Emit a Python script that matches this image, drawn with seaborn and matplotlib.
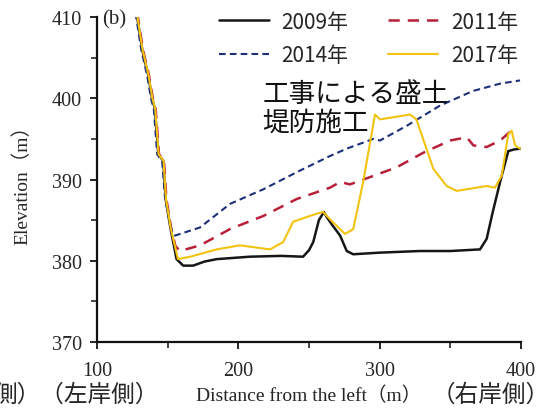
import numpy as np
import pandas as pd
import matplotlib
matplotlib.use('Agg')
import matplotlib.pyplot as plt
import seaborn as sns
from matplotlib.ticker import MultipleLocator

# cross section data (distance m, elevation m)
x_2009 = [128, 132, 136.3, 139, 141, 143.4, 146.9, 148.6, 152, 156.3, 161, 168, 176, 184.7,
          208, 230, 245.8, 250, 253, 257, 260.5, 262.5, 266, 272, 276.7, 281.3, 300, 328.5,
          350, 371, 375.7, 380, 385.2, 391, 395, 399.3]
y_2009 = [410.5, 406, 402.8, 400, 398.7, 393.1, 392.3, 387.6, 384, 380.2, 379.4, 379.4, 379.9, 380.2,
          380.5, 380.6, 380.5, 381.3, 382.3, 385, 386, 385.4, 384.5, 383.1, 381.2, 380.8, 381, 381.2,
          381.2, 381.4, 382.7, 386, 389.7, 393.5, 393.7, 393.8]

x_2011 = [128.5, 132.5, 136.8, 139.5, 141.5, 143.9, 147.4, 149.1, 152.5, 155.5, 158.7, 173, 194.1,
          217.5, 241.3, 264.9, 272, 279, 293.2, 312, 330.9, 349.8, 361.6, 366.3, 375.7, 385.2, 394.4]
y_2011 = [410.5, 406, 402.8, 400, 398.7, 393.1, 392.3, 387.6, 384, 381.8, 381.2, 381.9, 383.9,
          385.5, 387.6, 389, 389.7, 389.4, 390.3, 391.5, 393.3, 394.8, 395.2, 394.2, 394, 394.8, 396.2]

x_2014 = [127.3, 131.3, 135.5, 138.2, 140.2, 142.6, 146.1, 148, 150.5, 153.5, 155.2, 172.9, 194.1,
          217.7, 241.3, 264.9, 276.7, 295.5, 300.2, 319, 342.7, 366, 385.2, 399.3]
y_2014 = [410.5, 406, 402.8, 400, 398.7, 393.1, 392.3, 388, 385.5, 383.3, 383.1, 384.1, 387,
          388.8, 390.9, 392.9, 393.8, 395, 394.8, 396.6, 399.1, 400.9, 401.8, 402.2]

x_2017 = [128.2, 132.2, 136.5, 139.2, 141.2, 143.6, 147.1, 148.8, 152.2, 157.3, 166, 184.7, 201,
          222.4, 231.7, 238.8, 255.4, 260, 264.9, 275.5, 281.3, 288.3, 296.7, 300.2, 321.5, 326,
          338, 347.4, 354.5, 375.7, 381.6, 386.4, 391, 393.4, 395.8, 399.3]
y_2017 = [410.5, 406, 402.8, 400, 398.7, 393.1, 392.3, 387.6, 384, 380.2, 380.5, 381.4, 381.9,
          381.4, 382.3, 384.8, 385.8, 386, 385.1, 383.3, 383.9, 389.7, 398, 397.4, 398, 397.4,
          391.3, 389.2, 388.6, 389.2, 389, 390.5, 395.6, 396, 394.2, 393.8]

years = ['2009年', '2011年', '2014年', '2017年']
colors = ['#161616', '#b8203a', '#1c2f78', '#f2c30f']
series = [(x_2009, y_2009), (x_2011, y_2011), (x_2014, y_2014), (x_2017, y_2017)]

x_ticks = [100, 200, 300, 400]
y_ticks = [370, 380, 390, 400, 410]

sns.set_style('ticks')
plt.rcParams['font.family'] = ['Noto Sans CJK JP', 'DejaVu Sans']

fig = plt.figure(figsize=(5.47, 4.10), dpi=100)
ax = fig.add_axes([0.1773, 0.1634, 0.7752, 0.7926])

styles = [dict(lw=1.8),
          dict(lw=1.8, dashes=(4.5, 3.2)),
          dict(lw=1.5, dashes=(3.2, 2.0)),
          dict(lw=1.5)]
for yr, col, (xs, ys), st in zip(years, colors, series, styles):
    df = pd.DataFrame({'dist': xs, 'elev': ys})
    line_kw = dict(st)
    d = line_kw.pop('dashes', None)
    sns.lineplot(data=df, x='dist', y='elev', ax=ax, color=col, estimator=None,
                 label=yr, **line_kw)
    if d is not None:
        ax.lines[-1].set_dashes(d)

ax.set_xlim(100, 400)
ax.set_ylim(370, 410)
ax.set_xticks(x_ticks, [str(t) for t in x_ticks], fontfamily='Liberation Serif', fontsize=14.5)
ax.set_yticks(y_ticks, [str(t) for t in y_ticks], fontfamily='Liberation Serif', fontsize=14.5)
ax.xaxis.set_minor_locator(MultipleLocator(50))
ax.yaxis.set_minor_locator(MultipleLocator(5))
sns.despine(ax=ax)
for s in ['left', 'bottom']:
    ax.spines[s].set_linewidth(1.6)
    ax.spines[s].set_color('#111111')
ax.tick_params(which='major', direction='out', length=5, width=1.4)
ax.tick_params(axis='x', which='major', pad=9)
ax.tick_params(axis='y', which='major', pad=6)
ax.tick_params(which='minor', direction='out', length=4, width=1.2)

ax.set_xlabel('Distance from the left（m）', family=['Liberation Serif', 'Noto Sans CJK JP'],
              fontsize=14, labelpad=4)
ax.set_ylabel('Elevation（m）', family=['Liberation Serif', 'Noto Sans CJK JP'],
              fontsize=14, labelpad=14)

ax.text(0.012, 0.995, '(b)', transform=ax.transAxes, ha='left', va='center',
        family='Liberation Serif', fontsize=15)

# legend in two columns, rows 2009/2011 and 2014/2017
h, l = ax.get_legend_handles_labels()
order = [0, 2, 1, 3]
ax.legend([h[i] for i in order], [l[i] for i in order], ncol=2, frameon=False,
          loc='upper right', bbox_to_anchor=(0.962, 0.992), bbox_transform=fig.transFigure,
          fontsize=15, handlelength=2.4, handletextpad=0.6, columnspacing=1.9,
          labelspacing=0.55, borderaxespad=0)

ax.text(0.39, 0.805, '工事による盛土\n堤防施工', transform=ax.transAxes, ha='left', va='top',
        fontsize=19.2, linespacing=1.08, color='#111111')

fig.text(0.29, 0.036, '側）（左岸側）', ha='right', va='center', fontsize=17)
fig.text(0.789, 0.036, '（右岸側）', ha='left', va='center', fontsize=17)

fig.savefig('out.png', dpi=100)
